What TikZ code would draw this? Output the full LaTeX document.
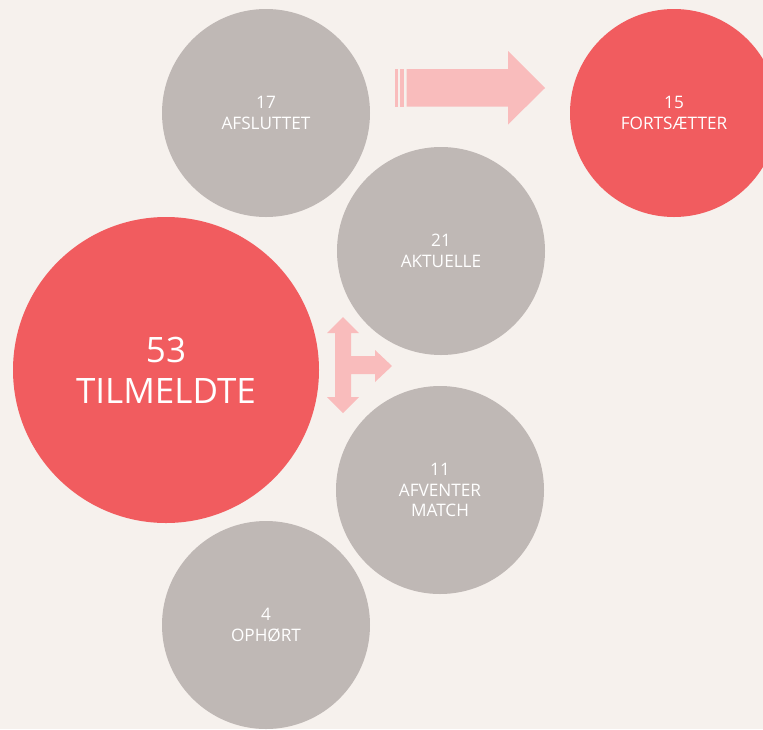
\documentclass[tikz,border=0pt]{standalone}
\usepackage{fontspec}
\setmainfont{Open Sans}
\definecolor{bgc}{HTML}{F6F1ED}
\definecolor{redc}{HTML}{F15C5F}
\definecolor{grayc}{HTML}{BFB8B5}
\definecolor{pinkc}{HTML}{F9BCBC}
\begin{document}
\begin{tikzpicture}[x=1pt,y=-1pt,
  bubble/.style={circle,inner sep=0pt,text=white,align=center,font=\fontsize{17.2}{20.5}\selectfont},
  small/.style={bubble,minimum size=208pt},
  graybub/.style={small,fill=grayc},
  redbub/.style={small,fill=redc},
  bigbub/.style={bubble,fill=redc,minimum size=306pt,font=\fontsize{35}{41}\selectfont},
  blockarrow/.style={fill=pinkc,draw=none}]
\fill[bgc] (0,0) rectangle (763,729);
\useasboundingbox (0,0) rectangle (763,729);
\node[bigbub] (tilm) at (166,370) {53\\TILMELDTE};
\node[graybub] (afsl) at (266,113) {17\\AFSLUTTET};
\node[redbub] (forts) at (674,113) {15\\FORTSÆTTER};
\node[graybub] (akt) at (441,251) {21\\AKTUELLE};
\node[graybub] (afv) at (440,490) {11\\AFVENTER\\MATCH};
\node[graybub] (oph) at (266,625) {4\\OPHØRT};
% striped arrow
\fill[blockarrow] (395,69) rectangle (397.7,106.5);
\fill[blockarrow] (400,69) rectangle (404.3,106.5);
\fill[blockarrow] (406.7,69) -- (508,69) -- (508,51) -- (545,88) -- (508,124.5) -- (508,106.5) -- (406.7,106.5) -- cycle;
% T arrow
\fill[blockarrow] (343,317) -- (359,333) -- (351,333) -- (351,356) -- (375,356) -- (375,350) -- (392,366) -- (375,382) -- (375,374) -- (351,374) -- (351,397) -- (359,397) -- (343,413) -- (327,397) -- (335,397) -- (335,333) -- (327,333) -- cycle;
\end{tikzpicture}
\end{document}
